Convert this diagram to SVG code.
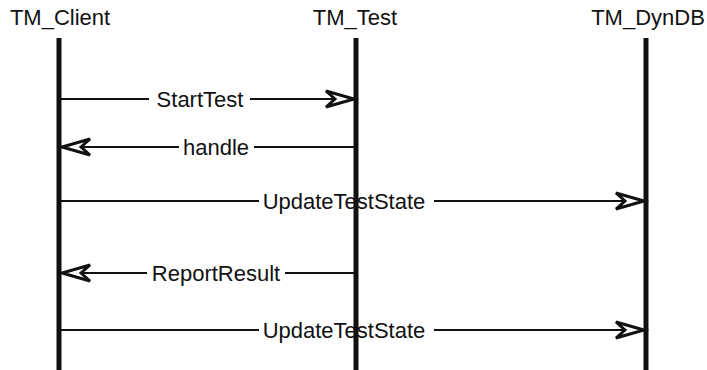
<svg xmlns="http://www.w3.org/2000/svg" width="707" height="370" viewBox="0 0 707 370">
  <style>
    text { font-family: "Liberation Sans", Arial, sans-serif; font-size: 22px; fill: #111; }
    .life { stroke: #111; stroke-width: 5; }
    .msg { stroke: #111; stroke-width: 2; fill: none; }
    .head { stroke: #111; stroke-width: 3; fill: #fff; stroke-linejoin: miter; }
  </style>
  <defs>
    <!-- barbed open arrowhead, tip at origin, pointing right -->
    <path id="barb" d="M-28,-8 L0,0 L-28,8 L-19,0 Z"/>
  </defs>
  <rect width="707" height="370" fill="#fff"/>

  <!-- connectors -->
  <g id="messages">
    <!-- StartTest: client -> test -->
    <g id="msg-starttest">
      <line class="msg" x1="60" y1="99" x2="149" y2="99"/>
      <line class="msg" x1="250" y1="99" x2="340" y2="99"/>
      <text x="200" y="107" text-anchor="middle">StartTest</text>
      <use href="#barb" class="head" transform="translate(354,99)"/>
    </g>
    <!-- handle: test -> client -->
    <g id="msg-handle">
      <line class="msg" x1="75" y1="147" x2="179" y2="147"/>
      <line class="msg" x1="254" y1="147" x2="357" y2="147"/>
      <text x="216" y="155" text-anchor="middle">handle</text>
      <use href="#barb" class="head" transform="translate(62,147) rotate(180)"/>
    </g>
    <!-- UpdateTestState: client -> dyndb -->
    <g id="msg-update1">
      <line class="msg" x1="60" y1="201" x2="259" y2="201"/>
      <line class="msg" x1="434" y1="201" x2="630" y2="201"/>
      <text x="344" y="209" text-anchor="middle">UpdateTestState</text>
      <use href="#barb" class="head" transform="translate(644,201)"/>
    </g>
    <!-- ReportResult: test -> client -->
    <g id="msg-report">
      <line class="msg" x1="75" y1="273" x2="147" y2="273"/>
      <line class="msg" x1="285" y1="273" x2="357" y2="273"/>
      <text x="216" y="281" text-anchor="middle">ReportResult</text>
      <use href="#barb" class="head" transform="translate(62,273) rotate(180)"/>
    </g>
    <!-- UpdateTestState: client -> dyndb -->
    <g id="msg-update2">
      <line class="msg" x1="60" y1="330" x2="259" y2="330"/>
      <line class="msg" x1="434" y1="330" x2="630" y2="330"/>
      <text x="344" y="338" text-anchor="middle">UpdateTestState</text>
      <use href="#barb" class="head" transform="translate(644,330)"/>
    </g>
  </g>

  <!-- participants -->
  <g id="tm-client">
    <text x="60" y="25" text-anchor="middle">TM_Client</text>
    <line class="life" x1="59" y1="38" x2="59" y2="370"/>
  </g>
  <g id="tm-test">
    <text x="355" y="25" text-anchor="middle">TM_Test</text>
    <line class="life" x1="356" y1="38" x2="356" y2="370"/>
  </g>
  <g id="tm-dyndb">
    <text x="648" y="25" text-anchor="middle">TM_DynDB</text>
    <line class="life" x1="646" y1="38" x2="646" y2="370"/>
  </g>
</svg>
